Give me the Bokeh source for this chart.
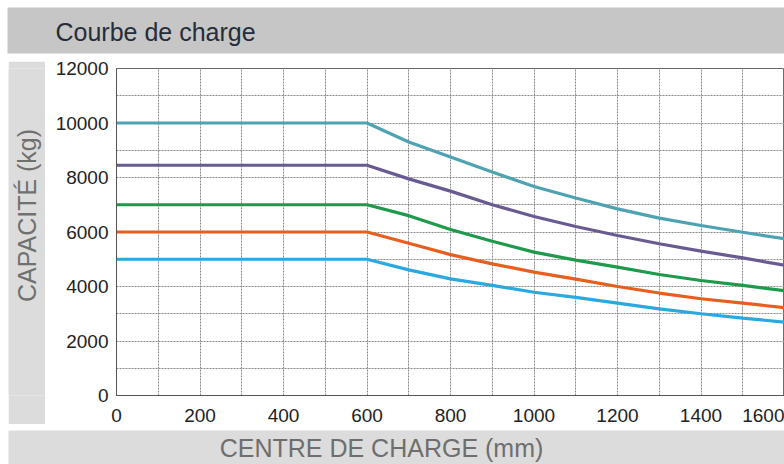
import math
from bokeh.plotting import figure
from bokeh.models import Range1d, FixedTicker, Spacer
from bokeh.layouts import column, row
from bokeh.core.properties import value
from bokeh.embed import file_html
from bokeh.resources import INLINE

# ---- data ----
centre_mm = [0, 600, 700, 800, 900, 1000, 1100, 1200, 1300, 1400, 1500, 1600]
cap_10000 = [10000, 10000, 9300, 8750, 8200, 7670, 7250, 6850, 6510, 6240, 5990, 5750]
cap_8450 = [8450, 8450, 7950, 7500, 7000, 6570, 6200, 5870, 5570, 5300, 5050, 4780]
cap_7000 = [7000, 7000, 6600, 6090, 5660, 5260, 4970, 4710, 4440, 4220, 4040, 3850]
cap_6000 = [6000, 6000, 5590, 5170, 4830, 4530, 4270, 4000, 3760, 3550, 3390, 3220]
cap_5000 = [5000, 5000, 4610, 4280, 4040, 3790, 3600, 3390, 3180, 3000, 2840, 2690]
series_colors = ["#4ea3b3", "#6a5a92", "#1e9a4c", "#e65f1e", "#2aa8e0"]
x_ticks = [0, 200, 400, 600, 800, 1000, 1200, 1400, 1600]
y_ticks = [0, 2000, 4000, 6000, 8000, 10000, 12000]
x_grid = list(range(0, 1700, 100))
y_grid = list(range(0, 13000, 1000))

title_text = "Courbe de charge"
x_label = "CENTRE DE CHARGE (mm)"
y_label = "CAPACITÉ (kg)"

FONT = "Liberation Sans"
BAND_DARK = "#c6c6c6"
BAND_LIGHT = "#dcdcdc"


def deco(width, height, xr, yr, fill="white", borders=(0, 0, 0, 0)):
    # decorative panel (no axes) for the grey header / label bands
    f = figure(width=width, height=height, output_backend="svg",
               toolbar_location=None, x_range=Range1d(*xr), y_range=Range1d(*yr),
               x_axis_type=None, y_axis_type=None,
               min_border_left=borders[0], min_border_right=borders[1],
               min_border_top=borders[2], min_border_bottom=borders[3])
    f.grid.visible = False
    f.outline_line_color = None
    f.background_fill_color = fill
    f.border_fill_color = fill
    return f


# ---- title band (page px, y from top) ----
top = deco(784, 56, (0, 784), (56, 0))
top.quad(left=[7], right=[784], top=[7], bottom=[53], fill_color=BAND_DARK, line_color=None)
top.text(x=[55], y=[31], text=[title_text], text_font=value(FONT),
         text_font_size=value("25px"), text_color="#252d3b",
         text_baseline="middle", text_align="left")

# ---- main chart ----
MB_TOP, MB_BOTTOM = 12, 29
p = figure(width=736, height=368, output_backend="svg", toolbar_location=None,
           x_range=Range1d(0, 1600), y_range=Range1d(0, 12000),
           min_border_left=68, min_border_top=MB_TOP, min_border_bottom=MB_BOTTOM,
           min_border_right=0)
p.background_fill_color = "white"
p.border_fill_color = "white"
p.outline_line_color = "#6a6a6a"

for ys, c in zip([cap_10000, cap_8450, cap_7000, cap_6000, cap_5000], series_colors):
    p.line(centre_mm, ys, line_color=c, line_width=3.2)

p.xgrid.ticker = FixedTicker(ticks=x_grid)
p.ygrid.ticker = FixedTicker(ticks=y_grid)
for g in (p.xgrid, p.ygrid):
    g.grid_line_color = "#8a8a8a"
    g.grid_line_dash = "2 1"
    g.grid_line_width = 1

p.xaxis.ticker = FixedTicker(ticks=x_ticks)
p.yaxis.ticker = FixedTicker(ticks=y_ticks)
for ax in (p.xaxis, p.yaxis):
    ax.axis_line_color = "#555555"
    ax.major_tick_line_color = None
    ax.minor_tick_line_color = None
    ax.major_tick_out = 0
    ax.major_tick_in = 0
    ax.major_label_text_font = FONT
    ax.major_label_text_font_size = "19px"
    ax.major_label_text_color = "#222222"
p.xaxis.major_label_standoff = 13
p.yaxis.major_label_standoff = 8

# ---- y label band (whole panel grey; page y 61..424, frame 68..395) ----
left = deco(37, 363, (8, 45), (395, 68), fill=BAND_LIGHT,
            borders=(0, 0, 7, MB_BOTTOM))
left.text(x=[26.5], y=[215], text=[y_label], text_font=value(FONT),
          text_font_size=value("25px"), text_color="#707070", angle=math.pi / 2,
          text_baseline="middle", text_align="center")

# ---- x label band ----
bottom = deco(784, 40, (0, 784), (464, 424))
bottom.quad(left=[8], right=[784], top=[430], bottom=[464], fill_color=BAND_LIGHT, line_color=None)
bottom.text(x=[381], y=[447], text=[x_label], text_font=value(FONT),
            text_font_size=value("25px"), text_color="#6e6e6e",
            text_baseline="middle", text_align="center")

left_col = column(Spacer(width=37, height=5), left, spacing=0)
layout = column(top,
                row(Spacer(width=8, height=368), left_col, Spacer(width=3, height=368), p,
                    spacing=0),
                bottom, spacing=0)

open("out.html", "w").write(file_html(layout, INLINE))
